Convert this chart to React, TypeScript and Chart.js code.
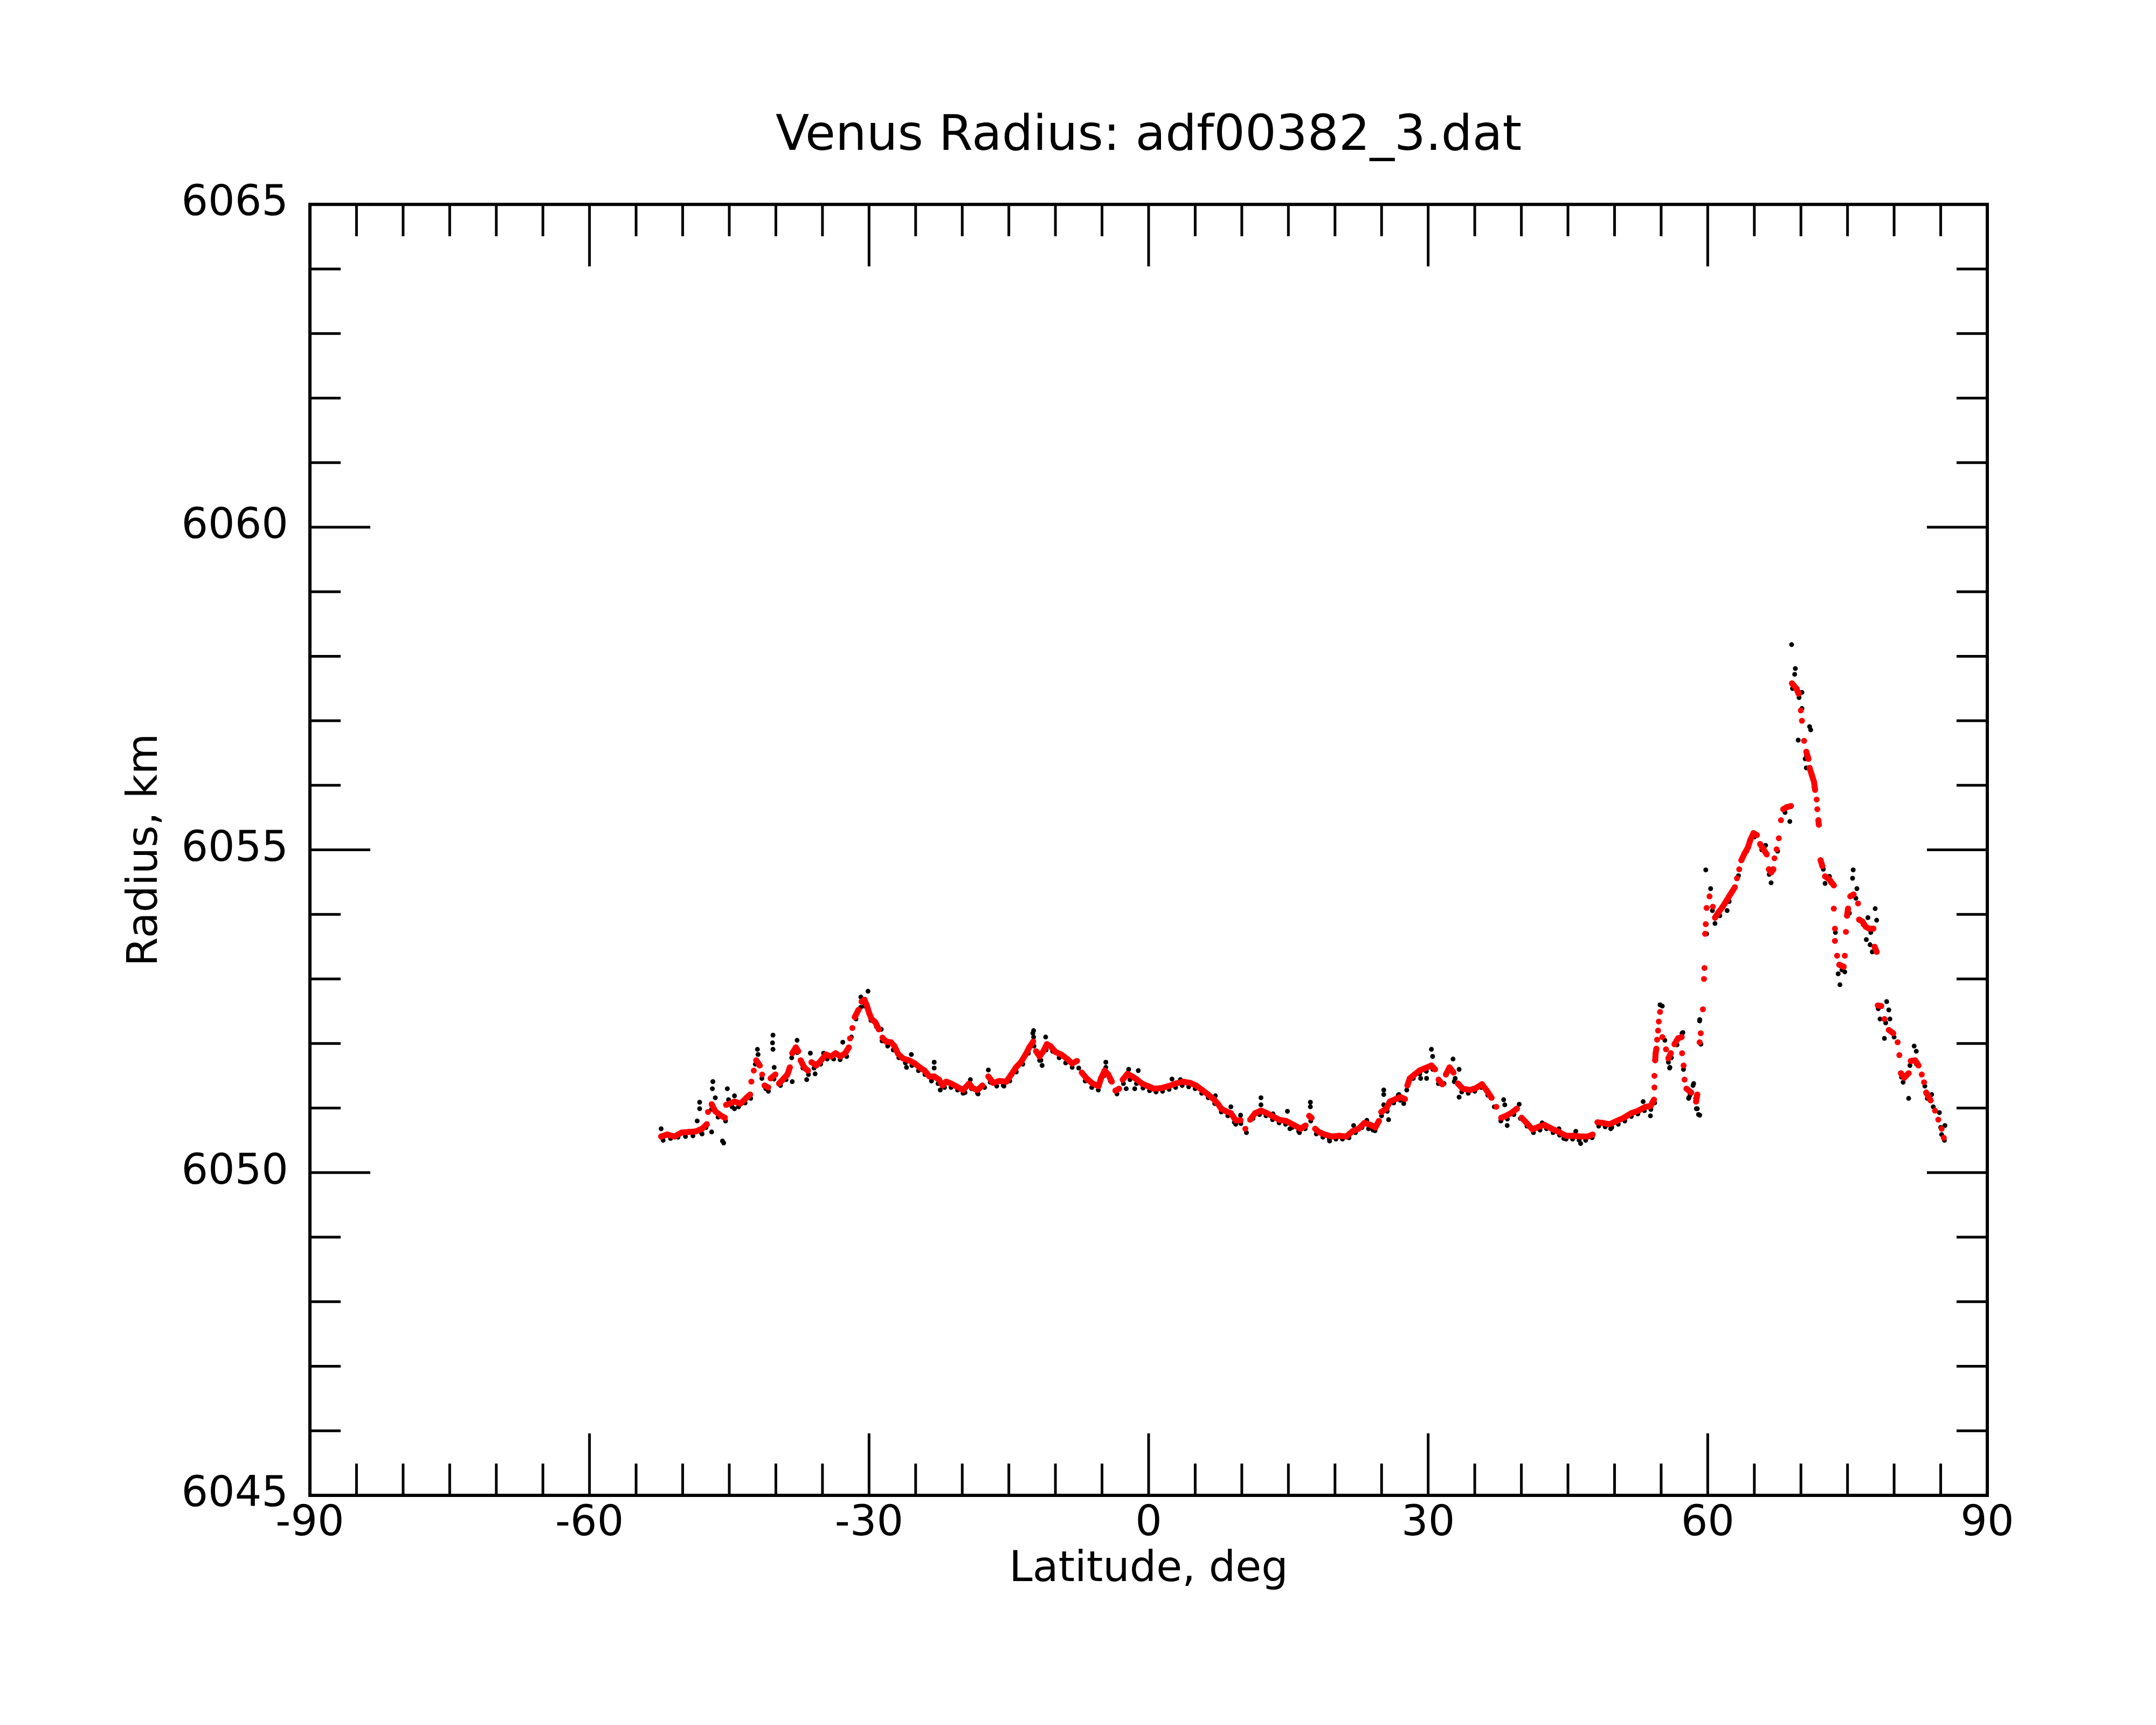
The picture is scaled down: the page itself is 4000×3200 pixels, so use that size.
import React, { useEffect, useRef } from "react";
import { Chart, registerables, ChartConfiguration, Plugin } from "chart.js";

Chart.register(...registerables);

// latitude (deg) / radius (km) pairs
const smoothedTrack: [number, number][] = [
  [-52.31, 6050.56], [-51.67, 6050.59], [-50.89, 6050.56], [-50.12, 6050.62], [-49.34, 6050.63],
  [-48.57, 6050.64], [-47.92, 6050.68], [-47.41, 6050.75], [-47.28, 6050.94], [-46.89, 6051.06],
  [-46.5, 6050.95], [-45.86, 6050.88], [-45.47, 6050.85], [-45.34, 6051.05], [-44.95, 6051.07],
  [-44.44, 6051.1], [-43.79, 6051.07], [-43.15, 6051.16], [-42.76, 6051.21], [-42.63, 6051.41],
  [-42.37, 6051.58], [-42.11, 6051.74], [-41.73, 6051.66], [-41.47, 6051.52], [-41.21, 6051.35],
  [-40.82, 6051.32], [-40.56, 6051.46], [-40.05, 6051.52], [-39.66, 6051.38], [-39.27, 6051.44],
  [-38.76, 6051.52], [-38.5, 6051.63], [-38.24, 6051.85], [-37.85, 6051.94], [-37.6, 6051.88],
  [-37.34, 6051.74], [-36.95, 6051.63], [-36.56, 6051.58], [-36.18, 6051.71], [-35.66, 6051.66],
  [-35.14, 6051.74], [-34.63, 6051.83], [-34.11, 6051.8], [-33.59, 6051.85], [-33.08, 6051.8],
  [-32.56, 6051.85], [-32.17, 6051.94], [-32.04, 6052.08], [-31.79, 6052.24], [-31.53, 6052.41],
  [-31.14, 6052.52], [-30.8, 6052.65], [-30.5, 6052.68], [-30.24, 6052.59], [-29.98, 6052.47],
  [-29.72, 6052.38], [-29.33, 6052.33], [-28.95, 6052.22], [-28.56, 6052.09], [-28.17, 6052.03],
  [-27.65, 6052.02], [-27.27, 6051.96], [-26.88, 6051.84], [-26.36, 6051.77], [-25.72, 6051.74],
  [-25.07, 6051.69], [-24.56, 6051.63], [-24.04, 6051.58], [-23.52, 6051.49], [-23.01, 6051.49],
  [-22.49, 6051.44], [-22.1, 6051.35], [-21.72, 6051.41], [-21.2, 6051.38], [-20.68, 6051.34],
  [-19.91, 6051.28], [-19.26, 6051.38], [-18.88, 6051.31], [-18.36, 6051.28], [-17.84, 6051.35],
  [-17.2, 6051.49], [-16.68, 6051.39], [-16.04, 6051.42], [-15.26, 6051.41], [-14.74, 6051.52],
  [-14.23, 6051.63], [-13.71, 6051.71], [-13.2, 6051.83], [-12.81, 6051.94], [-12.39, 6052.03],
  [-12.08, 6051.88], [-11.69, 6051.8], [-11.3, 6051.88], [-10.92, 6051.99], [-10.53, 6051.96],
  [-10.01, 6051.87], [-9.37, 6051.83], [-8.72, 6051.76], [-8.21, 6051.69], [-7.69, 6051.73],
  [-7.17, 6051.55], [-6.66, 6051.46], [-6.01, 6051.38], [-5.37, 6051.34], [-5.11, 6051.46],
  [-4.72, 6051.58], [-4.33, 6051.52], [-3.95, 6051.41], [-3.56, 6051.27], [-3.17, 6051.3],
  [-2.78, 6051.44], [-2.27, 6051.53], [-1.75, 6051.49], [-1.24, 6051.44], [-0.72, 6051.38],
  [-0.07, 6051.34], [0.57, 6051.3], [1.35, 6051.31], [2.12, 6051.34], [2.9, 6051.38],
  [3.67, 6051.41], [4.45, 6051.39], [5.09, 6051.35], [5.74, 6051.28], [6.38, 6051.21],
  [7.03, 6051.13], [7.41, 6051.07], [7.8, 6050.99], [8.32, 6050.95], [8.83, 6050.92],
  [9.35, 6050.81], [9.87, 6050.81], [10.38, 6050.68], [10.9, 6050.82], [11.42, 6050.92],
  [12.06, 6050.96], [12.71, 6050.92], [13.35, 6050.87], [14.0, 6050.82], [14.77, 6050.8],
  [15.55, 6050.74], [16.32, 6050.68], [16.84, 6050.73], [17.23, 6050.88], [17.48, 6050.85],
  [17.87, 6050.68], [18.26, 6050.63], [18.91, 6050.59], [19.68, 6050.56], [20.45, 6050.57],
  [21.23, 6050.56], [21.87, 6050.64], [22.52, 6050.68], [23.16, 6050.77], [23.81, 6050.74],
  [24.33, 6050.7], [24.71, 6050.8], [24.97, 6050.94], [25.49, 6050.99], [25.88, 6051.1],
  [26.52, 6051.14], [27.04, 6051.17], [27.51, 6051.14], [27.77, 6051.35], [28.03, 6051.46],
  [28.54, 6051.52], [29.06, 6051.58], [29.7, 6051.62], [30.35, 6051.66], [30.74, 6051.6],
  [31.12, 6051.44], [31.51, 6051.37], [31.9, 6051.52], [32.29, 6051.63], [32.72, 6051.55],
  [33.19, 6051.38], [33.71, 6051.3], [34.48, 6051.28], [35.13, 6051.31], [35.77, 6051.37],
  [36.29, 6051.27], [36.8, 6051.16], [37.32, 6051.02], [37.84, 6050.85], [38.35, 6050.88],
  [38.87, 6050.92], [39.52, 6050.99], [40.03, 6050.85], [40.55, 6050.77], [41.19, 6050.67],
  [41.84, 6050.71], [42.48, 6050.74], [43.26, 6050.68], [44.03, 6050.63], [44.81, 6050.57],
  [45.58, 6050.57], [46.36, 6050.56], [47.13, 6050.56], [47.65, 6050.59], [48.17, 6050.78],
  [48.68, 6050.77], [49.46, 6050.75], [50.23, 6050.8], [51.0, 6050.85], [51.78, 6050.92],
  [52.55, 6050.96], [53.33, 6051.02], [53.85, 6051.03], [54.23, 6051.13],
  [54.28, 6051.32], [54.28, 6051.5], [54.36, 6051.74], [54.41, 6051.85], [54.49, 6051.92],
  [54.57, 6052.06], [54.67, 6052.2], [54.75, 6052.34], [54.88, 6052.49],
  [55.13, 6052.1], [55.52, 6051.91], [55.78, 6051.77], [56.04, 6051.85], [56.43, 6051.99],
  [56.81, 6052.08], [57.2, 6052.1], [57.25, 6051.85], [57.41, 6051.66], [57.51, 6051.44],
  [57.72, 6051.3], [58.23, 6051.24], [58.75, 6051.1], [58.88, 6051.21],
  [59.13, 6052.02], [59.25, 6052.16], [59.48, 6052.53], [59.6, 6053.0], [59.65, 6053.17],
  [59.72, 6053.7], [59.79, 6053.85], [59.88, 6054.1], [60.19, 6054.28], [60.55, 6054.12],
  [60.78, 6053.95], [61.14, 6054.03], [61.61, 6054.12], [62.08, 6054.23], [62.55, 6054.34],
  [62.91, 6054.42], [63.14, 6054.56], [63.38, 6054.7], [63.61, 6054.84], [63.97, 6054.95],
  [64.32, 6055.04], [64.56, 6055.15], [64.91, 6055.26], [65.27, 6055.23], [65.62, 6055.09],
  [65.98, 6055.01], [66.33, 6054.93], [66.57, 6054.7], [66.8, 6054.65], [67.04, 6054.7],
  [67.16, 6054.87], [67.39, 6055.01], [67.63, 6055.18], [67.86, 6055.46], [68.1, 6055.63],
  [68.45, 6055.66], [68.93, 6055.68], [69.04, 6057.58], [69.52, 6057.5], [69.75, 6057.42],
  [69.99, 6057.16], [70.11, 6057.0], [70.34, 6056.69], [70.58, 6056.52], [70.81, 6056.41],
  [70.93, 6056.27], [71.17, 6056.16], [71.41, 6056.05], [71.52, 6055.93], [71.69, 6055.78],
  [71.76, 6055.63], [71.88, 6055.46], [71.92, 6055.39], [72.11, 6054.84], [72.3, 6054.75],
  [72.59, 6054.59], [73.06, 6054.54], [73.53, 6054.45], [73.53, 6054.09], [73.65, 6053.78],
  [73.65, 6053.59], [73.88, 6053.36], [74.12, 6053.22], [74.59, 6053.19], [74.71, 6053.36],
  [74.83, 6053.73], [74.95, 6053.98], [75.06, 6054.09], [75.3, 6054.28], [75.65, 6054.31],
  [76.13, 6054.17], [76.24, 6053.92], [76.6, 6053.89], [76.95, 6053.81], [77.31, 6053.78],
  [77.78, 6053.78], [77.9, 6053.5], [78.13, 6053.42], [78.25, 6052.59], [78.61, 6052.58],
  [78.96, 6052.38], [79.43, 6052.21], [79.9, 6052.16], [80.38, 6052.02], [80.56, 6051.82],
  [80.73, 6051.54], [81.08, 6051.47], [81.56, 6051.54], [81.79, 6051.73], [82.26, 6051.74],
  [82.62, 6051.66], [82.97, 6051.52], [83.21, 6051.4], [83.44, 6051.24], [83.92, 6051.12],
  [84.39, 6050.96], [84.74, 6050.82], [85.1, 6050.68], [85.33, 6050.54],
];

const rawSamples: [number, number][] = [
  [-52.31, 6050.68], [-52.1, 6050.5], [-51.3, 6050.53], [-50.5, 6050.55], [-49.7, 6050.56],
  [-48.9, 6050.57], [-48.44, 6050.8], [-48.18, 6051.09], [-48.18, 6050.99], [-48.0, 6050.62],
  [-47.92, 6050.6], [-47.5, 6050.7], [-46.9, 6050.98], [-46.89, 6050.63], [-46.81, 6051.3],
  [-46.76, 6051.41], [-46.5, 6051.16], [-46.2, 6050.86], [-45.73, 6050.49], [-45.6, 6050.46],
  [-45.4, 6050.8], [-45.21, 6051.3], [-45.08, 6051.13], [-44.7, 6051.02], [-44.44, 6051.19],
  [-44.44, 6050.99], [-44.0, 6051.02], [-43.3, 6051.08], [-42.7, 6051.15], [-42.2, 6051.68],
  [-41.98, 6051.91], [-41.91, 6051.83], [-41.5, 6051.46], [-41.08, 6051.3], [-40.8, 6051.26],
  [-40.36, 6052.01], [-40.31, 6052.13], [-40.31, 6051.91], [-40.2, 6051.45], [-40.18, 6051.63],
  [-39.5, 6051.35], [-38.9, 6051.44], [-38.3, 6051.78], [-38.24, 6051.41], [-37.72, 6052.05],
  [-37.7, 6051.86], [-37.1, 6051.62], [-36.69, 6051.44], [-36.5, 6051.52], [-36.3, 6051.85],
  [-35.9, 6051.62], [-35.79, 6051.53], [-35.2, 6051.68], [-34.88, 6051.85], [-34.5, 6051.76],
  [-33.8, 6051.76], [-33.1, 6051.75], [-32.82, 6052.02], [-32.4, 6051.8], [-31.9, 6052.1],
  [-31.4, 6052.38], [-30.9, 6052.56], [-30.88, 6052.72], [-30.5, 6052.58], [-30.3, 6052.6],
  [-30.11, 6052.81], [-29.8, 6052.36], [-29.2, 6052.26], [-28.69, 6052.22], [-28.6, 6052.04],
  [-28.0, 6051.96], [-27.4, 6051.9], [-26.8, 6051.78], [-26.1, 6051.7], [-25.98, 6051.63],
  [-25.46, 6051.83], [-25.4, 6051.66], [-24.7, 6051.58], [-24.0, 6051.52], [-23.3, 6051.42],
  [-23.01, 6051.71], [-23.01, 6051.62], [-22.6, 6051.38], [-22.36, 6051.28], [-21.9, 6051.32],
  [-21.2, 6051.32], [-20.5, 6051.28], [-19.91, 6051.23], [-19.7, 6051.24], [-19.13, 6051.44],
  [-19.0, 6051.3], [-18.36, 6051.23], [-18.3, 6051.22], [-17.6, 6051.32], [-17.2, 6051.59],
  [-17.0, 6051.4], [-16.3, 6051.34], [-15.6, 6051.35], [-15.52, 6051.34], [-14.9, 6051.42],
  [-14.2, 6051.56], [-13.5, 6051.68], [-12.9, 6051.85], [-12.42, 6052.16], [-12.34, 6052.2],
  [-12.34, 6052.1], [-12.3, 6051.96], [-11.7, 6051.74], [-11.56, 6051.74], [-11.43, 6051.66],
  [-11.05, 6052.1], [-11.0, 6051.9], [-10.3, 6051.88], [-9.6, 6051.78], [-8.9, 6051.7],
  [-8.2, 6051.63], [-7.5, 6051.62], [-6.8, 6051.42], [-6.1, 6051.32], [-5.4, 6051.28],
  [-4.8, 6051.5], [-4.59, 6051.71], [-4.59, 6051.63], [-4.1, 6051.42], [-3.4, 6051.22],
  [-2.7, 6051.38], [-2.4, 6051.3], [-2.14, 6051.6], [-2.0, 6051.44], [-1.49, 6051.3],
  [-1.3, 6051.38], [-1.11, 6051.58], [-0.6, 6051.31], [0.1, 6051.27], [0.8, 6051.25],
  [1.5, 6051.26], [2.2, 6051.29], [2.51, 6051.45], [2.9, 6051.32], [3.41, 6051.44],
  [3.6, 6051.35], [4.3, 6051.33], [5.0, 6051.3], [5.7, 6051.23], [6.4, 6051.16],
  [7.1, 6051.07], [7.16, 6051.19], [7.8, 6050.94], [8.5, 6050.88], [8.83, 6051.02],
  [9.2, 6050.78], [9.35, 6050.75], [9.87, 6050.89], [9.9, 6050.76], [10.5, 6050.62],
  [11.2, 6050.84], [11.9, 6050.9], [12.06, 6051.16], [12.06, 6051.05], [12.6, 6050.88],
  [13.3, 6050.82], [13.35, 6050.91], [14.0, 6050.77], [14.7, 6050.75], [14.9, 6050.95],
  [15.16, 6050.68], [15.4, 6050.7], [16.1, 6050.64], [16.19, 6050.62], [16.8, 6050.68],
  [17.36, 6051.09], [17.36, 6051.02], [17.4, 6050.8], [18.0, 6050.6], [18.7, 6050.55],
  [19.4, 6050.52], [19.42, 6050.49], [20.1, 6050.52], [20.8, 6050.52], [21.5, 6050.54],
  [22.0, 6050.73], [22.2, 6050.62], [22.9, 6050.7], [23.42, 6050.81], [23.6, 6050.68],
  [24.07, 6050.66], [24.3, 6050.65], [25.0, 6050.88], [25.23, 6051.28], [25.23, 6051.21],
  [25.23, 6051.05], [25.6, 6050.95], [25.75, 6050.82], [26.3, 6051.08], [26.78, 6051.2],
  [26.86, 6051.21], [27.0, 6051.12], [27.38, 6051.07], [27.7, 6051.28], [28.4, 6051.46],
  [29.1, 6051.53], [29.19, 6051.46], [29.8, 6051.57], [29.83, 6051.46], [30.35, 6051.91],
  [30.48, 6051.8], [30.5, 6051.6], [31.1, 6051.38], [31.7, 6051.38], [32.3, 6051.58],
  [32.67, 6051.76], [32.8, 6051.41], [32.9, 6051.46], [33.32, 6051.6], [33.32, 6051.17],
  [33.6, 6051.25], [34.3, 6051.23], [35.0, 6051.26], [35.7, 6051.32], [36.4, 6051.2],
  [37.1, 6051.02], [37.8, 6050.8], [37.84, 6050.82], [38.1, 6051.13], [38.22, 6051.05],
  [38.48, 6050.73], [38.5, 6050.83], [39.2, 6050.9], [39.77, 6051.06], [39.9, 6050.84],
  [40.6, 6050.72], [41.3, 6050.62], [42.0, 6050.66], [42.23, 6050.77], [42.7, 6050.68],
  [43.4, 6050.62], [44.03, 6050.68], [44.1, 6050.58], [44.55, 6050.53], [44.8, 6050.52],
  [45.5, 6050.52], [45.84, 6050.64], [46.2, 6050.5], [46.36, 6050.45], [46.9, 6050.5],
  [47.6, 6050.54], [48.3, 6050.72], [49.0, 6050.71], [49.59, 6050.68], [49.7, 6050.7],
  [50.4, 6050.75], [51.1, 6050.8], [51.8, 6050.87], [52.5, 6050.91], [53.07, 6051.1],
  [53.2, 6050.96], [53.85, 6050.88], [53.9, 6050.98], [54.3, 6051.08], [54.88, 6052.6],
  [55.12, 6052.58], [55.4, 6052.05], [55.78, 6051.71], [55.91, 6051.62], [55.94, 6051.63],
  [56.1, 6051.78], [56.7, 6051.98], [57.24, 6052.16], [57.33, 6052.17], [57.4, 6051.6],
  [57.95, 6051.15], [57.98, 6051.16], [58.1, 6051.2], [58.42, 6051.35], [58.49, 6051.38],
  [58.7, 6051.15], [58.78, 6050.99], [58.88, 6050.99], [59.01, 6050.9], [59.13, 6052.35],
  [59.14, 6050.89], [59.14, 6052.37], [59.27, 6051.99], [59.79, 6054.69], [59.88, 6053.7],
  [60.31, 6054.4], [60.5, 6054.06], [60.78, 6053.86], [61.3, 6053.98], [62.08, 6054.06],
  [62.3, 6054.2], [63.3, 6054.6], [64.2, 6054.98], [65.0, 6055.2], [65.8, 6055.0],
  [66.21, 6055.07], [66.6, 6054.62], [66.8, 6054.49], [67.5, 6054.98], [68.3, 6055.58],
  [68.81, 6055.44], [69.0, 6058.18], [69.1, 6057.5], [69.33, 6057.72], [69.4, 6057.81],
  [69.71, 6056.7], [69.8, 6057.36], [70.11, 6057.44], [70.11, 6057.19], [70.46, 6056.41],
  [70.58, 6056.27], [70.6, 6056.46], [70.93, 6056.91], [71.05, 6056.86], [71.4, 6055.98],
  [72.4, 6054.7], [72.59, 6054.48], [73.06, 6054.59], [73.2, 6054.49], [73.7, 6053.72],
  [74.0, 6053.08], [74.19, 6052.91], [74.4, 6053.14], [74.71, 6053.11], [75.2, 6054.02],
  [75.54, 6054.56], [75.61, 6054.69], [75.9, 6054.25], [76.01, 6054.4], [76.7, 6053.84],
  [77.02, 6053.61], [77.19, 6053.95], [77.42, 6053.53], [77.5, 6053.72], [77.66, 6053.42],
  [77.97, 6054.09], [78.13, 6053.91], [78.3, 6052.54], [78.49, 6052.38], [78.96, 6052.08],
  [79.1, 6052.32], [79.2, 6052.65], [79.43, 6052.52], [79.55, 6052.38], [80.0, 6052.1],
  [80.8, 6051.48], [80.97, 6051.4], [81.56, 6051.15], [81.7, 6051.66], [82.15, 6051.96],
  [82.38, 6051.88], [82.4, 6051.68], [83.3, 6051.34], [83.56, 6051.15], [84.03, 6051.21],
  [84.2, 6051.02], [84.86, 6050.93], [85.0, 6050.7], [85.1, 6050.59], [85.4, 6050.5],
  [85.45, 6050.73],
];

const latitudeTicks = [-90, -60, -30, 0, 30, 60, 90];
const radiusTicks = [6045, 6050, 6055, 6060, 6065];

const RED = "rgb(255,0,0)";

// matplotlib-like frame with inward major/minor ticks on all four sides
const boxTicks: Plugin<"scatter"> = {
  id: "boxTicks",
  afterDraw(chart) {
    const { ctx, chartArea: a, scales } = chart;
    const x = scales.x;
    const y = scales.y;
    ctx.save();
    ctx.strokeStyle = "#000";
    ctx.lineCap = "butt";
    ctx.lineWidth = 5;
    const seg = (x0: number, y0: number, x1: number, y1: number) => {
      ctx.beginPath();
      ctx.moveTo(x0, y0);
      ctx.lineTo(x1, y1);
      ctx.stroke();
    };
    for (let v = -90; v <= 90; v += 5) {
      const px = x.getPixelForValue(v);
      const len = v % 30 === 0 ? 115 : 59;
      seg(px, a.bottom, px, a.bottom - len);
      seg(px, a.top, px, a.top + len);
    }
    for (let v = 6045; v <= 6065; v += 1) {
      const py = y.getPixelForValue(v);
      const len = v % 5 === 0 ? 112 : 57;
      seg(a.left, py, a.left + len, py);
      seg(a.right, py, a.right - len, py);
    }
    ctx.lineWidth = 6;
    ctx.strokeRect(a.left, a.top, a.right - a.left, a.bottom - a.top);
    ctx.restore();
  },
};

export default function App() {
  const canvasRef = useRef<HTMLCanvasElement>(null);
  const chartRef = useRef<Chart<"scatter"> | null>(null);

  useEffect(() => {
    if (!canvasRef.current) return;
    if (chartRef.current) chartRef.current.destroy();

    Chart.defaults.font.family = "'DejaVu Sans', sans-serif";
    Chart.defaults.color = "#000";

    const config: ChartConfiguration<"scatter"> = {
      type: "scatter",
      data: {
        datasets: [
          {
            label: "smoothed",
            data: smoothedTrack.map(([lat, km]) => ({ x: lat, y: km })),
            order: 1,
            showLine: true,
            borderWidth: 11,
            borderColor: RED,
            borderCapStyle: "round",
            borderJoinStyle: "round",
            segment: {
              borderColor: (c) => {
                const dx = c.p1.parsed.x - c.p0.parsed.x;
                const dy = Math.abs(c.p1.parsed.y - c.p0.parsed.y);
                return dx < 0.9 && dy < 0.12 ? RED : "rgba(0,0,0,0)";
              },
            },
            pointRadius: 5.5,
            pointBorderWidth: 0,
            pointBackgroundColor: RED,
          },
          {
            label: "raw",
            data: rawSamples.map(([lat, km]) => ({ x: lat, y: km })),
            order: 2,
            pointRadius: 4.5,
            pointBorderWidth: 0,
            pointBackgroundColor: "#000",
          },
        ],
      },
      options: {
        responsive: false,
        devicePixelRatio: 1,
        animation: false,
        layout: { padding: { left: 0, top: 0, right: 313, bottom: 0 } },
        plugins: {
          legend: { display: false },
          tooltip: { enabled: false },
          title: {
            display: true,
            text: "Venus Radius: adf00382_3.dat",
            fullSize: false,
            color: "#000",
            font: { size: 91, weight: "normal" },
            padding: { top: 200, bottom: 70 },
          },
        },
        scales: {
          x: {
            type: "linear",
            position: "bottom",
            min: -90,
            max: 90,
            grid: { display: false, drawTicks: false },
            border: { display: false },
            afterBuildTicks: (s) => {
              s.ticks = latitudeTicks.map((v) => ({ value: v }));
            },
            afterFit: (s) => {
              s.height = 426;
            },
            ticks: {
              color: "#000",
              font: { size: 78 },
              padding: 7,
              maxRotation: 0,
              autoSkip: false,
              callback: (v) => String(v),
            },
            title: {
              display: true,
              text: "Latitude, deg",
              color: "#000",
              font: { size: 78 },
              padding: { top: 0, bottom: 240 },
            },
          },
          y: {
            type: "linear",
            position: "left",
            min: 6045,
            max: 6065,
            grid: { display: false, drawTicks: false },
            border: { display: false },
            afterBuildTicks: (s) => {
              s.ticks = radiusTicks.map((v) => ({ value: v }));
            },
            afterFit: (s) => {
              s.width = 575;
            },
            ticks: {
              color: "#000",
              font: { size: 78 },
              padding: 40,
              autoSkip: false,
              callback: (v) => String(v),
            },
            title: {
              display: true,
              text: "Radius, km",
              color: "#000",
              font: { size: 78 },
              padding: { top: 224, bottom: 0 },
            },
          },
        },
      },
      plugins: [boxTicks],
    };

    chartRef.current = new Chart(canvasRef.current, config);
    return () => {
      chartRef.current?.destroy();
      chartRef.current = null;
    };
  }, []);

  return (
    <div style={{ position: "absolute", left: 0, top: 0, width: 4000, height: 3200, background: "#fff" }}>
      <canvas ref={canvasRef} width={4000} height={3200} style={{ width: 4000, height: 3200 }} />
    </div>
  );
}
